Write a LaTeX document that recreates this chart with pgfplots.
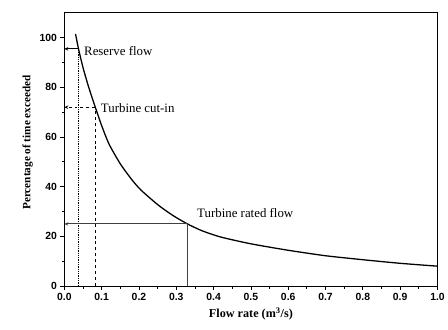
\documentclass[border=0pt]{standalone}
\usepackage{pgfplots}
\pgfplotsset{compat=1.18}
\usepackage{fontspec}
\setmainfont{Liberation Serif}
\newfontfamily\arialf{Liberation Sans}
\usetikzlibrary{arrows.meta}
\begin{document}
\begin{tikzpicture}
\begin{axis}[
  scale only axis,
  width=377pt, height=276pt,
  xmin=0, xmax=1, ymin=0, ymax=110,
  xtick={0,0.1,...,1.0},
  ytick={0,20,40,60,80,100},
  minor x tick num=1,
  minor y tick num=1,
  tick align=outside,
  xtick pos=left, ytick pos=left,
  major tick length=4pt, minor tick length=2.5pt,
  axis line style={line width=1pt},
  every tick/.style={line width=0.8pt, black},
  /pgf/number format/assume math mode=true,
  xticklabel style={/pgf/number format/.cd, fixed, fixed zerofill, precision=1},
  tick label style={font=\arialf\bfseries\fontsize{10.5}{12}\selectfont},
  xlabel={\textbf{Flow rate (m$^{\mathbf{3}}$/s)}},
  ylabel={\textbf{Percentage of time exceeded}},
  xlabel style={font=\fontsize{12.3}{14}\selectfont},
  ylabel style={font=\fontsize{11.3}{13}\selectfont, at={(ticklabel cs:0.58)}, xshift=-15pt},
  clip=false,
]
\addplot[black, line width=1.3pt, smooth, tension=0.4] coordinates {
(0.030,101.5) (0.038,95.5) (0.050,88) (0.065,80.2) (0.083,72) (0.10,64.6)
(0.12,57.1) (0.15,49.2) (0.18,43.0) (0.205,38.7) (0.25,32.8) (0.29,28.5)
(0.33,25) (0.37,22.2) (0.42,19.7) (0.5,17.0) (0.6,14.4) (0.7,12.2)
(0.8,10.6) (0.9,9.15) (1.0,8.0)};
% reserve flow
\addplot[black, densely dotted, line width=0.8pt] coordinates {(0.038,0) (0.038,95.5)};
\addplot[black, line width=0.8pt, -{Stealth[length=4pt,width=3.5pt]}] coordinates {(0.038,95.5) (0,95.5)};
% turbine cut-in
\addplot[black, dashed, line width=0.8pt] coordinates {(0.083,0) (0.083,72)};
\addplot[black, dashed, line width=0.8pt, -{Stealth[length=4pt,width=3.5pt]}] coordinates {(0.083,72) (0,72)};
% rated flow
\addplot[black!75, line width=1.1pt] coordinates {(0.33,0) (0.33,25)};
\addplot[black!75, line width=1.1pt, -{Stealth[length=4pt,width=3.5pt]}] coordinates {(0.33,25) (0,25)};
\node[anchor=west, font=\fontsize{13}{15}\selectfont, inner sep=1pt] at (axis cs:0.05,94.5) {Reserve flow};
\node[anchor=west, font=\fontsize{13}{15}\selectfont, inner sep=1pt] at (axis cs:0.095,71.5) {Turbine cut-in};
\node[anchor=west, font=\fontsize{13}{15}\selectfont, inner sep=1pt] at (axis cs:0.353,29.5) {Turbine rated flow};
\end{axis}
\path (current axis.south west) ++(-65pt,-44pt) coordinate (bbA);
\path (current axis.north east) ++(6pt,13pt) coordinate (bbB);
\useasboundingbox (bbA) rectangle (bbB);
\end{tikzpicture}
\end{document}
